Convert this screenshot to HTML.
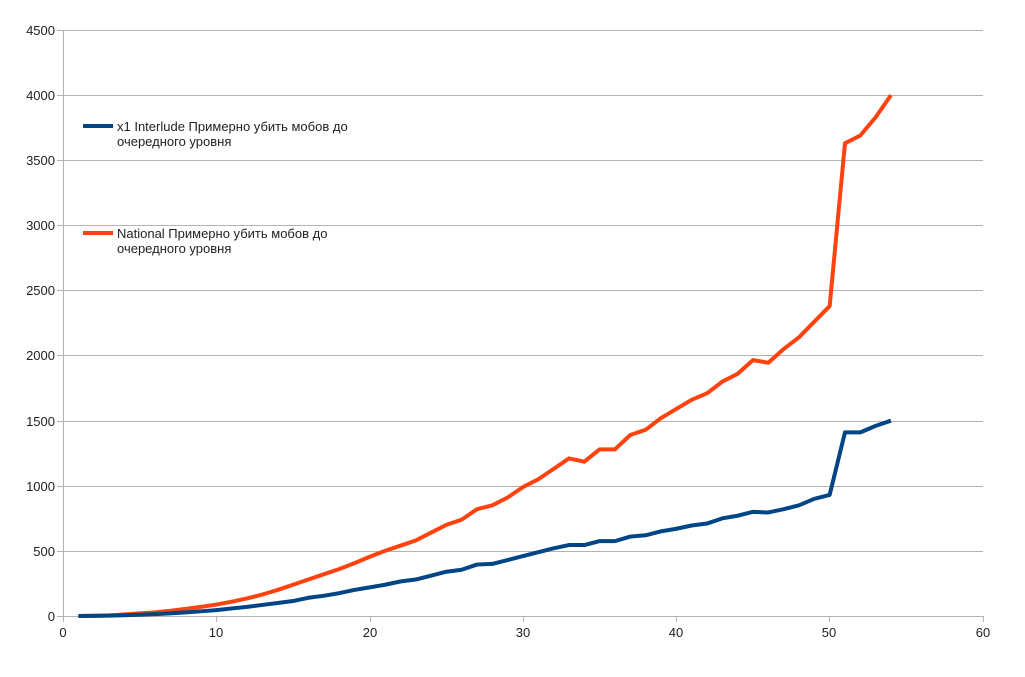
<!DOCTYPE html>
<html><head><meta charset="utf-8"><style>body{margin:0;background:#fff}svg{display:block}text{font-family:"Liberation Sans",sans-serif;font-size:13px;fill:#222}</style></head><body>
<svg width="1025" height="677" xmlns="http://www.w3.org/2000/svg">
<g stroke="#b3b3b3" stroke-width="1">
<line x1="57" y1="30.5" x2="983" y2="30.5"/><line x1="57" y1="95.5" x2="983" y2="95.5"/><line x1="57" y1="160.5" x2="983" y2="160.5"/><line x1="57" y1="225.5" x2="983" y2="225.5"/><line x1="57" y1="290.5" x2="983" y2="290.5"/><line x1="57" y1="355.5" x2="983" y2="355.5"/><line x1="57" y1="421.5" x2="983" y2="421.5"/><line x1="57" y1="486.5" x2="983" y2="486.5"/><line x1="57" y1="551.5" x2="983" y2="551.5"/><line x1="57" y1="616.5" x2="983" y2="616.5"/>
<line x1="63.5" y1="30" x2="63.5" y2="622"/>
<line x1="216.5" y1="616" x2="216.5" y2="622"/><line x1="370.5" y1="616" x2="370.5" y2="622"/><line x1="523.5" y1="616" x2="523.5" y2="622"/><line x1="676.5" y1="616" x2="676.5" y2="622"/><line x1="829.5" y1="616" x2="829.5" y2="622"/><line x1="983.5" y1="616" x2="983.5" y2="622"/>
</g>
<g text-anchor="end">
<text x="55" y="35">4500</text><text x="55" y="100">4000</text><text x="55" y="165">3500</text><text x="55" y="230">3000</text><text x="55" y="295">2500</text><text x="55" y="360">2000</text><text x="55" y="426">1500</text><text x="55" y="491">1000</text><text x="55" y="556">500</text><text x="55" y="621">0</text>
</g>
<g text-anchor="middle">
<text x="63" y="637">0</text><text x="216" y="637">10</text><text x="370" y="637">20</text><text x="523" y="637">30</text><text x="676" y="637">40</text><text x="829" y="637">50</text><text x="983" y="637">60</text>
</g>
<g transform="translate(63,616) scale(15.333,-0.13022)" fill="none" stroke-linejoin="round">
<polyline vector-effect="non-scaling-stroke" stroke="#ff420e" stroke-width="4" points="1,0 2,2 3,5 4,12 5,20 6,28 7,40 8,55 9,70 10,88 11,110 12,135 13,165 14,200 15,240 16,280 17,320 18,360 19,405 20,455 21,500 22,540 23,580 24,640 25,700 26,740 27,820 28,850 29,910 30,990 31,1050 32,1130 33,1210 34,1185 35,1280 36,1280 37,1390 38,1430 39,1520 40,1590 41,1660 42,1710 43,1800 44,1860 45,1965 46,1945 47,2050 48,2140 49,2260 50,2380 51,3630 52,3690 53,3830 54,4000"/>
<polyline vector-effect="non-scaling-stroke" stroke="#004586" stroke-width="4" points="1,0 2,1 3,3 4,6 5,10 6,14 7,20 8,28 9,36 10,45 11,58 12,70 13,85 14,100 15,115 16,140 17,155 18,175 19,200 20,220 21,240 22,265 23,280 24,310 25,340 26,355 27,395 28,400 29,430 30,460 31,490 32,520 33,545 34,545 35,575 36,575 37,610 38,620 39,650 40,670 41,695 42,710 43,750 44,770 45,800 46,795 47,820 48,850 49,900 50,930 51,1410 52,1410 53,1460 54,1500"/>
</g>
<rect x="83" y="124" width="30" height="4" fill="#004586"/>
<rect x="83" y="231" width="30" height="4" fill="#ff420e"/>
<text x="117" y="131">x1 Interlude Примерно убить мобов до</text>
<text x="117" y="146">очередного уровня</text>
<text x="117" y="238">National Примерно убить мобов до</text>
<text x="117" y="253">очередного уровня</text>
</svg>
</body></html>
